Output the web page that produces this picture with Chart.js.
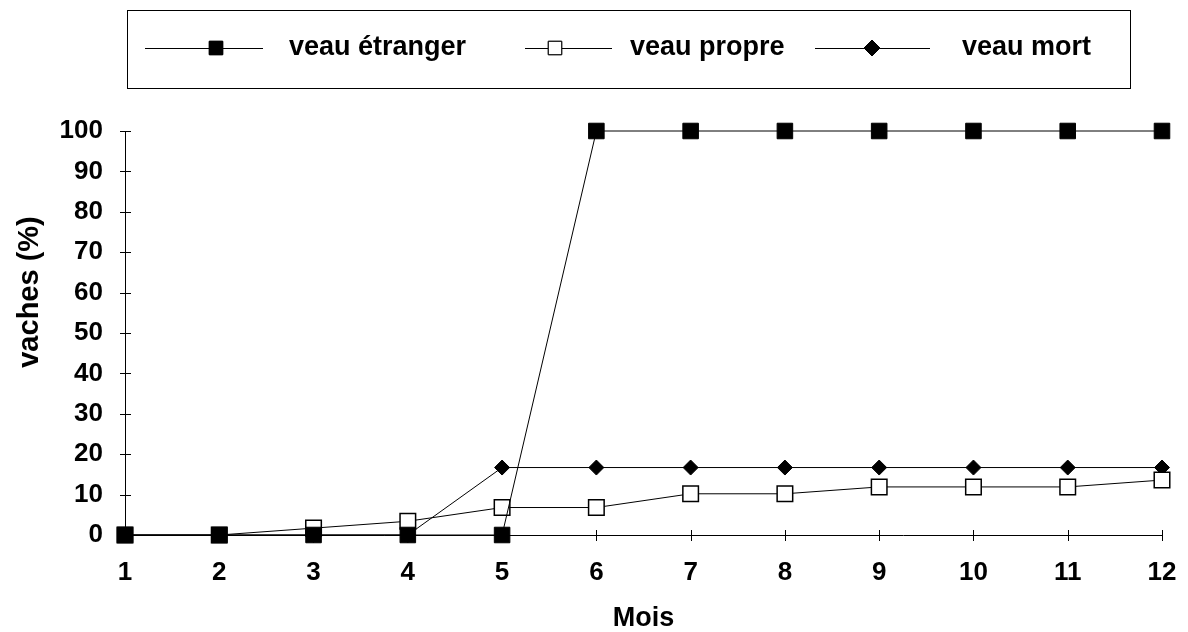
<!DOCTYPE html>
<html>
<head>
<meta charset="utf-8">
<script src="https://cdn.jsdelivr.net/npm/chart.js@4/dist/chart.umd.min.js"></script>
<style>
  html, body { margin: 0; padding: 0; background: #fff; }
  #wrap { width: 1188px; height: 632px; }
</style>
</head>
<body>
<div id="wrap"><canvas id="chart" width="1188" height="632"></canvas></div>
<script>
// months on the x axis
var mois = ['1', '2', '3', '4', '5', '6', '7', '8', '9', '10', '11', '12'];

// % of cows per series
var veauEtranger = [0, 0, 0, 0, 0, 100, 100, 100, 100, 100, 100, 100];
var veauPropre   = [0, 0, 1.7, 3.4, 6.8, 6.8, 10.2, 10.2, 11.9, 11.9, 11.9, 13.6];
var veauMort     = [0, 0, 0, 0, 16.7, 16.7, 16.7, 16.7, 16.7, 16.7, 16.7, 16.7];

var yTicks = [0, 10, 20, 30, 40, 50, 60, 70, 80, 90, 100];

var FONT = '"Liberation Sans", Arial, sans-serif';

// legend box + crossing tick marks + y title, drawn by hand
var decorPlugin = {
    id: 'decor',
    afterDraw: function(chart) {
        var ctx = chart.ctx;
        var xs = chart.scales.x, ys = chart.scales.y;
        var area = chart.chartArea;
        ctx.save();
        ctx.strokeStyle = '#000';
        ctx.lineWidth = 1;

        // ticks crossing the axes
        ctx.beginPath();
        ys.ticks.forEach(function(t, i) {
            var py = Math.round(ys.getPixelForTick(i)) + 0.5;
            ctx.moveTo(area.left - 5, py);
            ctx.lineTo(area.left + 6, py);
        });
        xs.ticks.forEach(function(t, i) {
            var px = Math.round(xs.getPixelForTick(i)) + 0.5;
            ctx.moveTo(px, area.bottom - 5);
            ctx.lineTo(px, area.bottom + 6);
        });
        ctx.stroke();

        // y title
        ctx.fillStyle = '#000';
        ctx.font = 'bold 29px ' + FONT;
        ctx.textAlign = 'center';
        ctx.textBaseline = 'middle';
        ctx.translate(30, 292);
        ctx.rotate(-Math.PI / 2);
        ctx.fillText('vaches (%)', 0, 0);
        ctx.restore();

        // legend
        ctx.save();
        ctx.strokeStyle = '#000';
        ctx.lineWidth = 1;
        ctx.strokeRect(127.5, 10.5, 1003, 78);
        var items = [
            {x0: 145, x1: 263, mx: 216, tx: 289},
            {x0: 525, x1: 612, mx: 555, tx: 630},
            {x0: 815, x1: 930, mx: 872, tx: 962}
        ];
        var ly = 48;
        chart.data.datasets.forEach(function(ds, i) {
            var it = items[i];
            ctx.beginPath();
            ctx.moveTo(it.x0, ly + 0.5);
            ctx.lineTo(it.x1, ly + 0.5);
            ctx.stroke();
            Chart.helpers.drawPoint(ctx, {
                pointStyle: ds.pointStyle,
                radius: ds.pointStyle === 'rectRot' ? 8 : 9.5,
                borderWidth: 1
            }, it.mx, ly);
            ctx.fillStyle = ds.pointBackgroundColor;
            ctx.fill();
            ctx.stroke();
            ctx.fillStyle = '#000';
            ctx.font = 'bold 27px ' + FONT;
            ctx.textAlign = 'left';
            ctx.textBaseline = 'middle';
            ctx.fillText(ds.label, it.tx, ly);
        });
        ctx.restore();
    }
};

new Chart(document.getElementById('chart'), {
    type: 'line',
    data: {
        labels: mois,
        datasets: [
            {
                label: 'veau étranger',
                data: veauEtranger,
                borderColor: '#000',
                borderWidth: 1,
                pointStyle: 'rect',
                pointRadius: 11,
                pointBackgroundColor: '#000',
                pointBorderColor: '#000',
                pointBorderWidth: 1,
                clip: false,
                tension: 0
            },
            {
                label: 'veau propre',
                data: veauPropre,
                borderColor: '#000',
                borderWidth: 1,
                pointStyle: 'rect',
                pointRadius: 11,
                pointBackgroundColor: '#fff',
                pointBorderColor: '#000',
                pointBorderWidth: 1.5,
                clip: false,
                tension: 0
            },
            {
                label: 'veau mort',
                data: veauMort,
                borderColor: '#000',
                borderWidth: 1,
                pointStyle: 'rectRot',
                pointRadius: 7.5,
                pointBackgroundColor: '#000',
                pointBorderColor: '#000',
                pointBorderWidth: 1,
                clip: false,
                tension: 0
            }
        ]
    },
    options: {
        responsive: false,
        animation: false,
        layout: { padding: { top: 131, right: 26, bottom: 0, left: 0 } },
        plugins: {
            legend: { display: false },
            tooltip: { enabled: false }
        },
        scales: {
            x: {
                type: 'category',
                offset: false,
                afterFit: function(s) {
                    s.height = 97;
                    s.paddingLeft = 0;
                    s.paddingRight = 0;
                },
                grid: { drawOnChartArea: false, drawTicks: false },
                border: { color: '#000', width: 1 },
                ticks: {
                    color: '#000',
                    padding: 22,
                    maxRotation: 0,
                    autoSkip: false,
                    font: { family: FONT, size: 26, weight: 'bold' }
                },
                title: {
                    display: true,
                    text: 'Mois',
                    color: '#000',
                    padding: 0,
                    font: { family: FONT, size: 27, weight: 'bold', lineHeight: 1 }
                }
            },
            y: {
                min: 0,
                max: 100,
                afterFit: function(s) { s.width = 125; },
                afterBuildTicks: function(s) {
                    s.ticks = yTicks.map(function(v) { return { value: v }; });
                },
                grid: { drawOnChartArea: false, drawTicks: false },
                border: { color: '#000', width: 1 },
                ticks: {
                    color: '#000',
                    padding: 22,
                    font: { family: FONT, size: 26, weight: 'bold' }
                }
            }
        }
    },
    plugins: [decorPlugin]
});
</script>
</body>
</html>
